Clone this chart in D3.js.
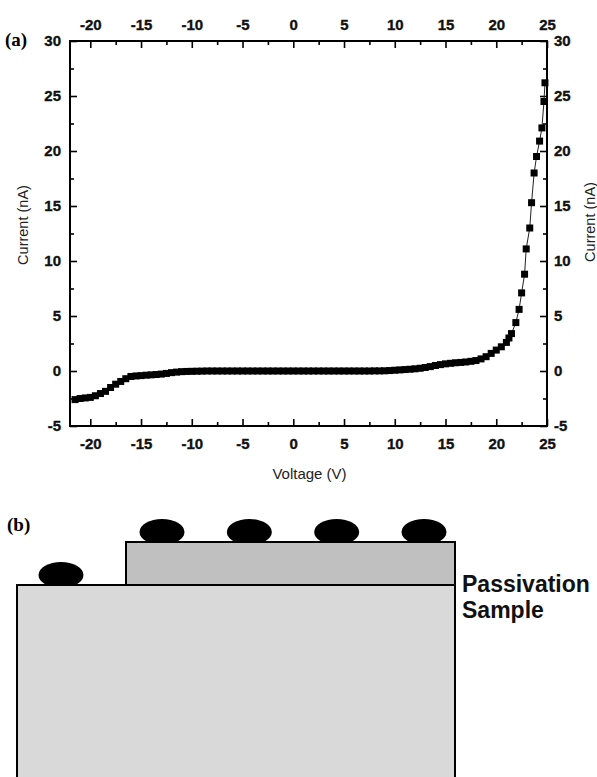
<!DOCTYPE html>
<html>
<head>
<meta charset="utf-8">
<script src="https://cdn.jsdelivr.net/npm/d3@7"></script>
<style>
  body { margin: 0; background: #fff; }
  svg text { font-family: "Liberation Sans", Arial, sans-serif; }
</style>
</head>
<body>
<div id="chart"></div>
<script>
// I-V data
var voltage = [-21.5, -21, -20.5, -20, -19.5, -19, -18.5, -18, -17.5, -17, -16.5, -16, -15.5, -15, -14.5, -14,
    -13.5, -13, -12.5, -12, -11.5, -11, -10.5, -10, -9.5, -9, -8.5, -8, -7.5, -7, -6.5, -6, -5.5, -5, -4.5, -4,
    -3.5, -3, -2.5, -2, -1.5, -1, -0.5, 0, 0.5, 1, 1.5, 2, 2.5, 3, 3.5, 4, 4.5, 5, 5.5, 6, 6.5, 7, 7.5, 8, 8.5,
    9, 9.5, 10, 10.5, 11, 11.5, 12, 12.5, 13, 13.5, 14, 14.5, 15, 15.5, 16, 16.5, 17, 17.5, 18, 18.5, 19, 19.5,
    20, 20.5, 21, 21.25, 21.5, 21.93, 22.25, 22.5, 22.79, 22.95, 23.3, 23.48, 23.73, 23.97, 24.27, 24.5, 24.7, 24.8];
var current = [-2.6, -2.5, -2.45, -2.4, -2.25, -2.05, -1.85, -1.5, -1.2, -0.95, -0.7, -0.5, -0.45, -0.42, -0.38, -0.35,
    -0.32, -0.28, -0.22, -0.15, -0.1, -0.06, -0.04, -0.03, -0.02, -0.01, 0, 0, 0, 0, 0, 0, 0, 0, 0, 0,
    0, 0, 0, 0, 0, 0, 0, 0, 0, 0, 0, 0, 0, 0, 0, 0, 0, 0, 0, 0, 0, 0, 0, 0.01, 0.01,
    0.02, 0.04, 0.07, 0.1, 0.13, 0.16, 0.2, 0.25, 0.32, 0.4, 0.5, 0.58, 0.65, 0.7, 0.75, 0.78, 0.82, 0.88, 0.95, 1.1, 1.3, 1.6,
    1.9, 2.2, 2.6, 3.0, 3.4, 4.4, 5.6, 7.1, 8.8, 11.1, 13.0, 15.3, 18.0, 19.5, 20.9, 22.1, 24.5, 26.2];

// Tick values
var xMajor = [-20, -15, -10, -5, 0, 5, 10, 15, 20, 25];
var xMinor = [-17.5, -12.5, -7.5, -2.5, 2.5, 7.5, 12.5, 17.5, 22.5];
var yMajor = [-5, 0, 5, 10, 15, 20, 25, 30];
var yMinor = [-2.5, 2.5, 7.5, 12.5, 17.5, 22.5, 27.5];

// Panel (b) schematic
var layerNames = ["Passivation", "Sample"];
var topContacts = [0, 1, 2, 3];

var w = 597;
var h = 777;
var margin = {top: 41, right: 50, bottom: 351, left: 70};

var svg = d3.select("#chart")
    .append("svg")
    .attr("width", w)
    .attr("height", h);

var data = voltage.map(function(v, i) { return {v: v, c: current[i]}; });

var x = d3.scaleLinear()
    .domain([-22, 25])
    .range([margin.left, w - margin.right]);

var y = d3.scaleLinear()
    .domain([-5, 30])
    .range([h - margin.bottom, margin.top]);

//Axes: major ticks with labels, minor without
function addAxis(axisFn, transform, ticks, size, pad, labels) {
    var ax = axisFn
        .tickValues(ticks)
        .tickSizeInner(-size)
        .tickSizeOuter(0)
        .tickPadding(pad)
        .tickFormat(labels ? function(d) { return String(d); } : "");
    var g = svg.append("g")
        .attr("transform", transform)
        .call(ax);
    g.select(".domain").remove();
    g.selectAll("line").attr("stroke", "#000").attr("stroke-width", 1.6);
    g.selectAll("text")
        .attr("fill", "#111")
        .attr("stroke", "#111")
        .attr("stroke-width", 0.35)
        .style("font-family", "'Liberation Sans', Arial, sans-serif")
        .style("font-size", "15px")
        .style("font-weight", "bold");
    return g;
}

var bottomY = h - margin.bottom;
var rightX = w - margin.right;

addAxis(d3.axisBottom(x), "translate(0," + bottomY + ")", xMajor, 7, 12, true);
addAxis(d3.axisBottom(x), "translate(0," + bottomY + ")", xMinor, 4, 12, false);
addAxis(d3.axisTop(x), "translate(0," + margin.top + ")", xMajor, 7, 11, true);
addAxis(d3.axisTop(x), "translate(0," + margin.top + ")", xMinor, 4, 11, false);
addAxis(d3.axisLeft(y), "translate(" + margin.left + ",0)", yMajor, 7, 9, true);
addAxis(d3.axisLeft(y), "translate(" + margin.left + ",0)", yMinor, 4, 9, false);
addAxis(d3.axisRight(y), "translate(" + rightX + ",0)", yMajor, 7, 7, true);
addAxis(d3.axisRight(y), "translate(" + rightX + ",0)", yMinor, 4, 7, false);

//Frame
svg.append("rect")
    .attr("x", margin.left)
    .attr("y", margin.top)
    .attr("width", rightX - margin.left)
    .attr("height", bottomY - margin.top)
    .attr("fill", "none")
    .attr("stroke", "#000")
    .attr("stroke-width", 2);

//Line + square markers
var line = d3.line()
    .x(function(d) { return x(d.v); })
    .y(function(d) { return y(d.c); });

svg.append("path")
    .datum(data)
    .attr("d", line)
    .attr("fill", "none")
    .attr("stroke", "#222")
    .attr("stroke-width", 1);

var sq = 7;
svg.append("g")
    .selectAll("rect")
    .data(data)
    .join("rect")
    .attr("x", function(d) { return x(d.v) - sq / 2; })
    .attr("y", function(d) { return y(d.c) - sq / 2; })
    .attr("width", sq)
    .attr("height", sq)
    .attr("fill", "#000");

//Axis titles
svg.append("text")
    .attr("x", (margin.left + rightX) / 2 + 1)
    .attr("y", 479)
    .attr("text-anchor", "middle")
    .style("font-size", "15px")
    .attr("fill", "#222")
    .text("Voltage (V)");

svg.append("text")
    .attr("transform", "translate(28,225) rotate(-90)")
    .attr("text-anchor", "middle")
    .style("font-size", "14.5px")
    .attr("fill", "#222")
    .text("Current (nA)");

svg.append("text")
    .attr("transform", "translate(595,222) rotate(-90)")
    .attr("text-anchor", "middle")
    .style("font-size", "14.5px")
    .attr("fill", "#222")
    .text("Current (nA)");

//Panel labels
svg.append("text")
    .attr("x", 5)
    .attr("y", 46)
    .style("font", "bold 19px 'Liberation Serif', 'Times New Roman', serif")
    .text("(a)");

svg.append("text")
    .attr("x", 7)
    .attr("y", 531)
    .style("font", "bold 19px 'Liberation Serif', 'Times New Roman', serif")
    .text("(b)");

//Panel (b): schematic cross-section
var sx = d3.scaleLinear().domain([0, 3]).range([162, 424]);
var surfTop = 542, sampleTop = 585;
var leftEdge = 17, rightEdge = 455, stepEdge = 126;

function contact(cx, base) {
    svg.append("ellipse")
        .attr("cx", cx)
        .attr("cy", base - 10)
        .attr("rx", 22.5)
        .attr("ry", 13)
        .attr("fill", "#000");
}

topContacts.forEach(function(i) { contact(sx(i), surfTop); });
contact(61, sampleTop);

svg.append("rect")
    .attr("x", leftEdge)
    .attr("y", sampleTop)
    .attr("width", rightEdge - leftEdge)
    .attr("height", h - sampleTop + 10)
    .attr("fill", "#d9d9d9")
    .attr("stroke", "#000")
    .attr("stroke-width", 2);

svg.append("rect")
    .attr("x", stepEdge)
    .attr("y", surfTop)
    .attr("width", rightEdge - stepEdge)
    .attr("height", sampleTop - surfTop)
    .attr("fill", "#c0c0c0")
    .attr("stroke", "#000")
    .attr("stroke-width", 2);

svg.selectAll(".layer-label")
    .data(layerNames)
    .join("text")
    .attr("class", "layer-label")
    .attr("x", 462)
    .attr("y", function(d, i) { return 592 + i * 26; })
    .style("font", "bold 23px 'Liberation Sans', Arial, sans-serif")
    .attr("fill", "#111")
    .text(function(d) { return d; });
</script>
</body>
</html>
